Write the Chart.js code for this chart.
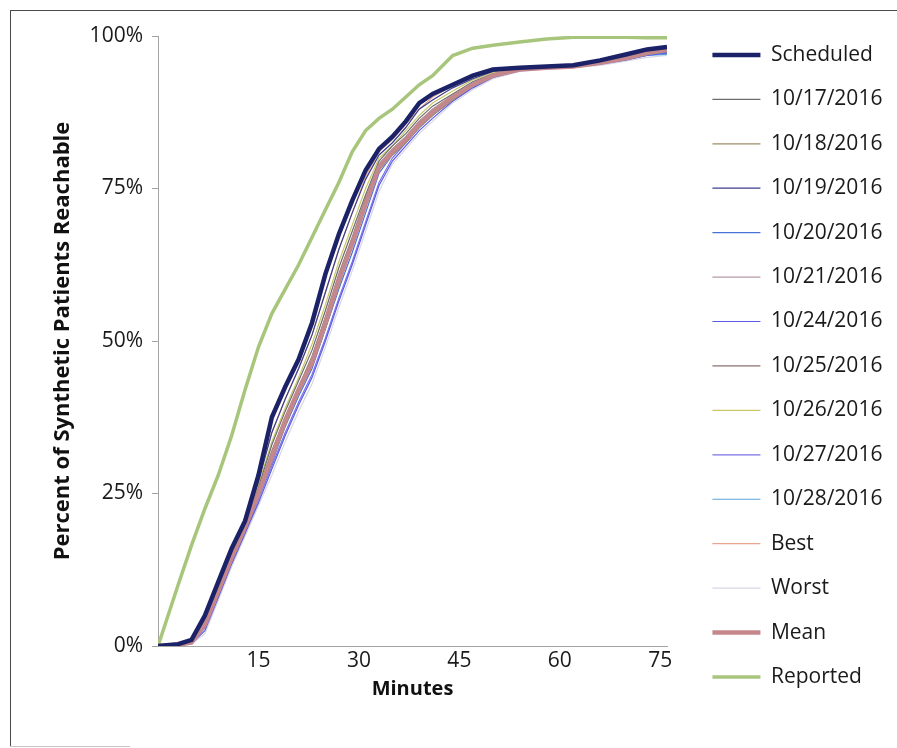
<!DOCTYPE html>
<html>
<head>
<meta charset="utf-8">
<script src="https://cdn.jsdelivr.net/npm/chart.js@4.4.1/dist/chart.umd.min.js"></script>
<style>
  html, body { margin: 0; padding: 0; background: #fff; }
  #frame { position: absolute; left: 10px; top: 10px; width: 900px; height: 737px;
           border-left: 1.5px solid #4a4a4a; border-top: 1.5px solid #4a4a4a; box-sizing: border-box; }
  #foot { position: absolute; left: 10px; top: 746px; width: 120px; height: 1px; background: #c8c8c8; }
  #c { position: absolute; left: 0; top: 0; }
</style>
</head>
<body>
<div id="frame"></div>
<div id="foot"></div>
<canvas id="c" width="897" height="748"></canvas>
<script>
// ---- data (minutes on x, percent reachable on y) ----
const minutes = [0,3,5,7,9,11,13,15,17,19,21,23,25,27,29,31,33,35,37,39,41,44,47,50,54,58,62,66,70,73,76];

const scheduled = [0,0.3,1,5,10.5,16,20.5,28,37.5,42.5,47,53,61,67.5,73,78,81.5,83.5,86,89,90.5,92,93.5,94.5,94.8,95,95.2,96,97,97.8,98.2];
const d1017 = [0,0.2,0.7,4,9.5,15,20,26,33,38.5,43.5,48.5,55,62,68,74,79.5,82,84,86.5,88.5,90.5,92.5,93.8,94.6,94.9,95.1,95.7,96.5,97.3,97.8];
const d1018 = [0,0.2,0.6,3.5,9,14,19,24.5,30.5,36,41.5,46,52,59,65.5,72,78,80.5,82.5,85,87,89.5,91.8,93.3,94.4,94.8,95,95.5,96.3,97,97.5];
const d1019 = [0,0.3,0.9,4.5,10,15.5,20.5,27,35,40.5,45.5,51,58,65,71,76.5,80.5,82.5,85,88,89.5,91.5,93,94.2,94.7,95,95.2,95.9,96.8,97.6,98];
const d1020 = [0,0.2,0.5,3,8.5,14,19,24.5,30,36,41,45.5,52,58.5,64.5,71,77.5,80.5,82.5,85,87,89.8,91.8,93.4,94.5,94.8,95,95.5,96.2,96.9,97.3];
const d1021 = [0,0.2,0.6,3.5,9,14.5,19.5,25,31.5,37,42,47,53.5,60.5,66.5,73,79,81.5,83.5,86,88,90.3,92.2,93.6,94.5,94.8,95,95.6,96.4,97.2,97.7];
const d1024 = [0,0.1,0.4,2.5,8,13.5,18.5,23.5,29,34.5,39.5,44,50,56.5,62.5,69,75.5,79.5,82,84.5,86.5,89.3,91.5,93.2,94.3,94.7,94.9,95.4,96.1,96.8,97.2];
const d1025 = [0,0.2,0.7,4,9.5,15,20,25.5,32,37.5,42.5,47.5,54,61,67,73.5,79,81.5,83.5,86,88,90.2,92.2,93.6,94.5,94.8,95,95.6,96.5,97.3,97.8];
const d1026 = [0,0.3,0.8,4.5,10,15.5,20.5,26.5,33.5,39,44,49.5,56,63,69,75,80,82,84.5,87,89,91,92.8,94,94.6,94.9,95.1,95.8,96.7,97.5,98];
const d1027 = [0,0.1,0.5,3,8,13.5,18.5,24,29.5,35,40,44.5,50.5,57,63,69.5,76,80,82.5,85,87,89.5,91.6,93.3,94.4,94.8,95,95.5,96.2,97,97.4];
const d1028 = [0,0.2,0.6,3.5,9,14,19,24.5,30.5,36.5,41.5,46,52.5,59.5,65.5,72,78,81,83,85.5,87.5,90,92,93.5,94.5,94.8,95,95.5,96.2,96.8,97];
const best  = [0,0.3,1,5,10.5,16,21,27.5,35,40.5,45.5,51,58,65,71,77,81,83,85.5,88,90,91.8,93.3,94.4,94.8,95,95.2,96,96.9,97.7,98.2];
const worst = [0,0.1,0.3,2,7.5,13,18,23,28,33.5,38.5,43,49,55.5,61.5,68,74.5,79,81.5,84,86,89,91.2,93,94.2,94.6,94.8,95.2,95.9,96.5,96.8];
const mean  = [0,0.2,0.6,3.5,9,14.5,19.5,25,31,37,42,46.5,53,60,66,72.5,78.5,81,83,85.5,87.5,90,92,93.5,94.5,94.8,95,95.6,96.4,97.2,97.7];
const reported = [0,10,16.5,22.5,28,34.5,42,49,54.5,58.5,62.5,67,71.5,76,81,84.5,86.5,88,90,92,93.5,96.8,98,98.5,99,99.5,99.8,99.8,99.8,99.7,99.7];

const seriesNames = ['Scheduled','10/17/2016','10/18/2016','10/19/2016','10/20/2016','10/21/2016',
  '10/24/2016','10/25/2016','10/26/2016','10/27/2016','10/28/2016','Best','Worst','Mean','Reported'];
const seriesValues = [scheduled,d1017,d1018,d1019,d1020,d1021,d1024,d1025,d1026,d1027,d1028,best,worst,mean,reported];

const xTickValues = [15,30,45,60,75];
const yTickValues = [0,25,50,75,100];

// ---- styles ----
const styles = [
  {c:'#1c2268', w:4.5, o:0},
  {c:'#6c6c6c', w:1.2, o:2},
  {c:'#9c8f66', w:1.2, o:2},
  {c:'#3d3d8e', w:1.2, o:2},
  {c:'#4a70d8', w:1.2, o:2},
  {c:'#b49aa8', w:1.2, o:2},
  {c:'#5a5ae6', w:1.2, o:2},
  {c:'#8c6f6f', w:1.2, o:2},
  {c:'#c9c66a', w:1.2, o:2},
  {c:'#7b72e6', w:1.2, o:2},
  {c:'#5ca4d8', w:1.2, o:2},
  {c:'#e9a68e', w:1.2, o:2},
  {c:'#d6d6e4', w:1.2, o:2},
  {c:'#c4878b', w:4.5, o:1},
  {c:'#a8c57c', w:3.5, o:2}
];

const datasets = seriesNames.map((name, i) => ({
  label: name,
  data: minutes.map((m, k) => ({x: m, y: seriesValues[i][k]})),
  borderColor: styles[i].c,
  backgroundColor: styles[i].c,
  borderWidth: styles[i].w,
  order: styles[i].o,
  pointRadius: 0,
  tension: 0,
  fill: false
}));

const legendShift = {
  id: 'legendShift',
  afterLayout(chart) {
    const lg = chart.legend;
    if (!lg) return;
    lg.left += 22;
    lg.right = chart.width;
    lg.width = lg.right - lg.left;
    lg.top -= 15;
    lg.height = lg.bottom - lg.top;
  }
};

const FONT = "'Open Sans', 'Noto Sans', sans-serif";

new Chart(document.getElementById('c'), {
  type: 'line',
  data: { datasets },
  plugins: [legendShift],
  options: {
    responsive: false,
    animation: false,
    layout: { padding: { top: 36, right: 50, bottom: 0, left: 0 } },
    plugins: {
      tooltip: { enabled: false },
      legend: {
        position: 'right',
        align: 'start',
        maxWidth: 180,
        labels: {
          usePointStyle: true,
          pointStyle: 'line',
          pointStyleWidth: 48,
          padding: 23.43,
          color: '#1a1a1a',
          font: { family: FONT, size: 21 },
          sort: (a, b) => a.datasetIndex - b.datasetIndex
        }
      }
    },
    scales: {
      x: {
        type: 'linear',
        min: 0, max: 76,
        afterFit: s => { s.height = 102; },
        afterBuildTicks: s => { s.ticks = xTickValues.map(v => ({value: v})); },
        ticks: { color: '#1a1a1a', font: { family: FONT, size: 21 }, padding: 2, maxRotation: 0, autoSkip: false },
        grid: { display: false, drawTicks: false, tickLength: 0 },
        border: { display: true, color: '#a3a3a3', width: 1 },
        title: { display: true, text: 'Minutes', color: '#111', font: { family: FONT, size: 20, weight: 'bold' },
                 padding: { top: 0, bottom: 47 } }
      },
      y: {
        min: 0, max: 100,
        afterFit: s => { s.width = 158; },
        afterBuildTicks: s => { s.ticks = yTickValues.map(v => ({value: v})); },
        ticks: { color: '#1a1a1a', font: { family: FONT, size: 21 }, padding: 9, callback: v => v + '%' },
        grid: { display: true, drawOnChartArea: false, drawTicks: true, tickLength: 6, color: '#a3a3a3' },
        border: { display: true, color: '#a3a3a3', width: 1 },
        title: { display: true, text: 'Percent of Synthetic Patients Reachable', color: '#111',
                 font: { family: FONT, size: 22, weight: 'bold' }, padding: { top: 50, bottom: 0 } }
      }
    }
  }
});
</script>
</body>
</html>
